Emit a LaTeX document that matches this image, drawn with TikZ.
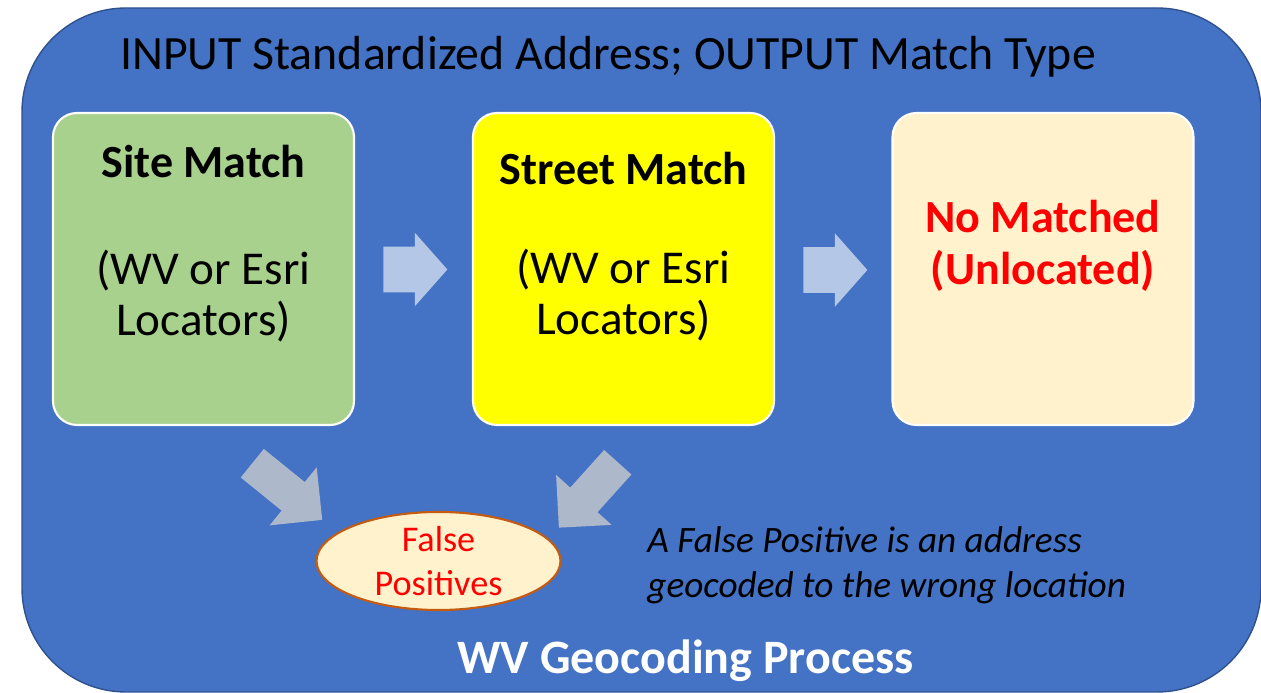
\documentclass[tikz,border=0pt]{standalone}
\usepackage{fontspec}
\setmainfont{Carlito}
\usetikzlibrary{shapes.geometric,shapes.arrows}
\definecolor{panel}{HTML}{4472C4}
\definecolor{paneledge}{HTML}{2F528F}
\definecolor{sitec}{HTML}{A9D18E}
\definecolor{streetc}{HTML}{FFFF00}
\definecolor{nonec}{HTML}{FFF2CC}
\definecolor{flowc}{HTML}{B4C7E7}
\definecolor{leakc}{HTML}{ADB9CA}
\definecolor{fpedge}{HTML}{C55A11}
\begin{document}
\begin{tikzpicture}[
  box/.style={draw=white,line width=1.2pt,rounded corners=0.48cm,minimum width=6.02cm,minimum height=6.24cm},
  head/.style={font=\fontsize{26.2}{29.5}\selectfont\bfseries,align=center,inner sep=0pt},
  sub/.style={font=\fontsize{26.8}{29.5}\selectfont,align=center,inner sep=0pt},
  flow/.style={single arrow,fill=flowc,inner xsep=0pt,inner ysep=0.45cm,minimum height=1.28cm,single arrow head extend=0.28cm,single arrow tip angle=97,anchor=tail},
  leak/.style={single arrow,fill=leakc,inner xsep=0pt,inner ysep=0.36cm,single arrow head extend=0.38cm,anchor=tail}]
\useasboundingbox (0,0) rectangle (25.22,13.86);
\draw[fill=panel,draw=paneledge,line width=0.8pt,rounded corners=2.08cm] (0.44,0.02) rectangle (25.22,13.70);
\node[anchor=base,font=\fontsize{27.2}{32}\selectfont] (title) at (12.16,12.46) {INPUT Standardized Address; OUTPUT Match Type};
% the three match types
\node[box,fill=sitec] (site) at (4.07,8.48) {};
\node[box,fill=streetc] (street) at (12.47,8.48) {};
\node[box,fill=nonec] (none) at (20.86,8.48) {};
\node[head,anchor=base] (sitehead) at (4.07,10.30) {Site Match};
\node[sub] (sitesub) at (4.07,7.94) {(WV or Esri\\Locators)};
\node[head,anchor=base] (streethead) at (12.47,10.16) {Street Match};
\node[sub] (streetsub) at (12.47,7.96) {(WV or Esri\\Locators)};
\node[head,text=red] (nonehead) at (20.86,8.94) {No Matched\\(Unlocated)};
% block arrows
\node[flow] (go1) at (7.66,8.47) {};
\node[flow] (go2) at (16.06,8.46) {};
\node[leak,rotate=-39,minimum height=1.8cm] (leak1) at (5.04,4.60) {};
\node[leak,rotate=-132,minimum height=1.76cm] (leak2) at (12.36,4.62) {};
\node[ellipse,draw=fpedge,line width=1.2pt,fill=nonec,minimum width=4.88cm,minimum height=1.88cm,inner sep=0pt,align=center,text=red,font=\fontsize{20.6}{25}\selectfont] (fp) at (8.77,2.64) {False\\Positives};
\node[anchor=west,align=left,inner sep=0pt,font=\fontsize{21.2}{25.5}\selectfont\itshape] (note) at (12.94,2.55) {A False Positive is an address\\geocoded to the wrong location};
\node[anchor=base,text=white,font=\fontsize{27.3}{30}\selectfont\bfseries] (caption) at (13.71,0.38) {WV Geocoding Process};
\end{tikzpicture}
\end{document}
